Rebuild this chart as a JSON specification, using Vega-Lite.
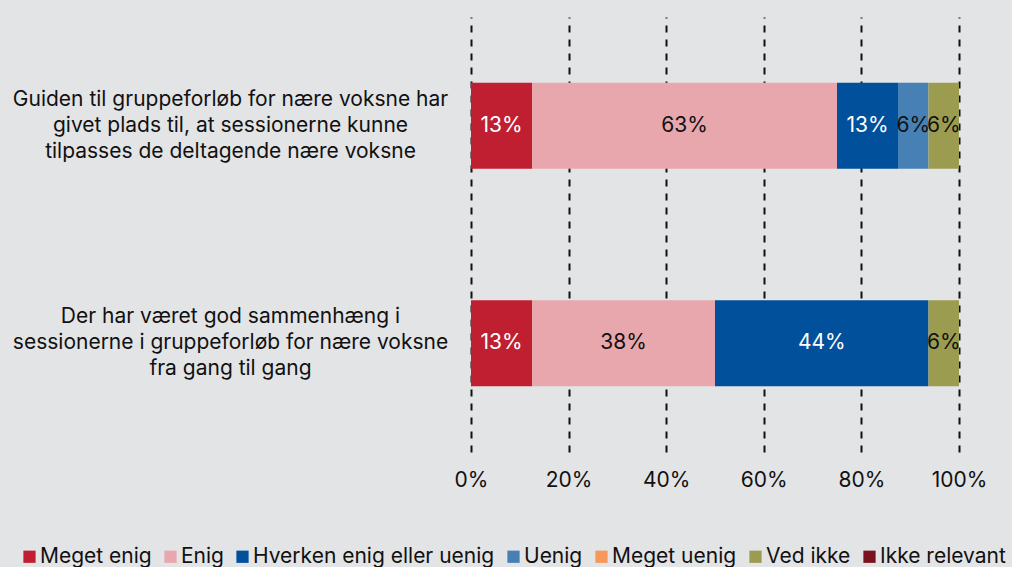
{
  "$schema": "https://vega.github.io/schema/vega-lite/v6.json",
  "width": 488,
  "height": 435,
  "autosize": {"type": "none"},
  "padding": {"left": 471, "top": 17, "right": 53, "bottom": 115},
  "background": "#e3e4e6",
  "config": {
    "view": {"stroke": null},
    "font": "Inter",
    "text": {"font": "Inter"}
  },
  "data": {
    "values": [
      {"q": "Guiden til gruppeforløb for nære voksne har|givet plads til, at sessionerne kunne|tilpasses de deltagende nære voksne", "cat": "Meget enig", "idx": 1, "val": 0.125},
      {"q": "Guiden til gruppeforløb for nære voksne har|givet plads til, at sessionerne kunne|tilpasses de deltagende nære voksne", "cat": "Enig", "idx": 2, "val": 0.625},
      {"q": "Guiden til gruppeforløb for nære voksne har|givet plads til, at sessionerne kunne|tilpasses de deltagende nære voksne", "cat": "Hverken enig eller uenig", "idx": 3, "val": 0.125},
      {"q": "Guiden til gruppeforløb for nære voksne har|givet plads til, at sessionerne kunne|tilpasses de deltagende nære voksne", "cat": "Uenig", "idx": 4, "val": 0.0625},
      {"q": "Guiden til gruppeforløb for nære voksne har|givet plads til, at sessionerne kunne|tilpasses de deltagende nære voksne", "cat": "Ved ikke", "idx": 6, "val": 0.0625},
      {"q": "Der har været god sammenhæng i|sessionerne i gruppeforløb for nære voksne|fra gang til gang", "cat": "Meget enig", "idx": 1, "val": 0.125},
      {"q": "Der har været god sammenhæng i|sessionerne i gruppeforløb for nære voksne|fra gang til gang", "cat": "Enig", "idx": 2, "val": 0.375},
      {"q": "Der har været god sammenhæng i|sessionerne i gruppeforløb for nære voksne|fra gang til gang", "cat": "Hverken enig eller uenig", "idx": 3, "val": 0.4375},
      {"q": "Der har været god sammenhæng i|sessionerne i gruppeforløb for nære voksne|fra gang til gang", "cat": "Ved ikke", "idx": 6, "val": 0.0625}
    ]
  },
  "transform": [
    {"stack": "val", "groupby": ["q"], "sort": [{"field": "idx", "order": "ascending"}], "as": ["v0", "v1"]},
    {"calculate": "(datum.v0 + datum.v1) / 2", "as": "mid"}
  ],
  "encoding": {
    "y": {
      "field": "q",
      "type": "nominal",
      "sort": null,
      "title": null,
      "scale": {"paddingInner": 0.604, "paddingOuter": 0.302},
      "axis": {
        "domain": false,
        "ticks": false,
        "tickSize": 0,
        "labelAlign": "center",
        "labelPadding": 241,
        "labelOffset": -26,
        "labelExpr": "split(datum.value, '|')",
        "labelFont": "Inter",
        "labelFontSize": 21,
        "labelLineHeight": 26,
        "labelColor": "#111111",
        "labelLimit": 500
      }
    }
  },
  "layer": [
    {
      "mark": {"type": "bar"},
      "encoding": {
        "x": {
          "field": "v0",
          "type": "quantitative",
          "scale": {"domain": [0, 1], "nice": false},
          "title": null,
          "axis": {
            "format": ".0%",
            "values": [0, 0.2, 0.4, 0.6, 0.8, 1],
            "domain": false,
            "ticks": false,
            "grid": true,
            "gridColor": "#111111",
            "gridWidth": 2,
            "gridDash": [7, 7],
            "gridOpacity": 1,
            "labelPadding": 17,
            "labelFont": "Inter",
            "labelFontSize": 21,
            "labelColor": "#111111",
            "labelFlush": false
          }
        },
        "x2": {"field": "v1"},
        "color": {
          "field": "cat",
          "type": "nominal",
          "scale": {
            "domain": ["Meget enig", "Enig", "Hverken enig eller uenig", "Uenig", "Meget uenig", "Ved ikke", "Ikke relevant"],
            "range": ["#c01f31", "#e8a7ad", "#00509c", "#4680b4", "#f5985a", "#9c9c50", "#7a131d"]
          },
          "legend": {
            "title": null,
            "orient": "none",
            "direction": "horizontal",
            "columns": 7,
            "legendX": -452,
            "legendY": 529,
            "symbolType": "square",
            "symbolSize": 150,
            "symbolStrokeWidth": 0,
            "symbolOpacity": 1,
            "labelFont": "Inter",
            "labelFontSize": 21,
            "labelColor": "#111111",
            "labelOffset": 0,
            "columnPadding": 8,
            "labelLimit": 400
          }
        }
      }
    },
    {
      "mark": {"type": "text", "fontSize": 21, "font": "Inter", "baseline": "middle", "align": "center"},
      "encoding": {
        "x": {"field": "mid", "type": "quantitative"},
        "text": {"field": "val", "type": "quantitative", "format": ".0%"},
        "color": {
          "condition": {"test": "datum.cat === 'Meget enig' || datum.cat === 'Hverken enig eller uenig'", "value": "#ffffff"},
          "value": "#111111"
        }
      }
    }
  ]
}
